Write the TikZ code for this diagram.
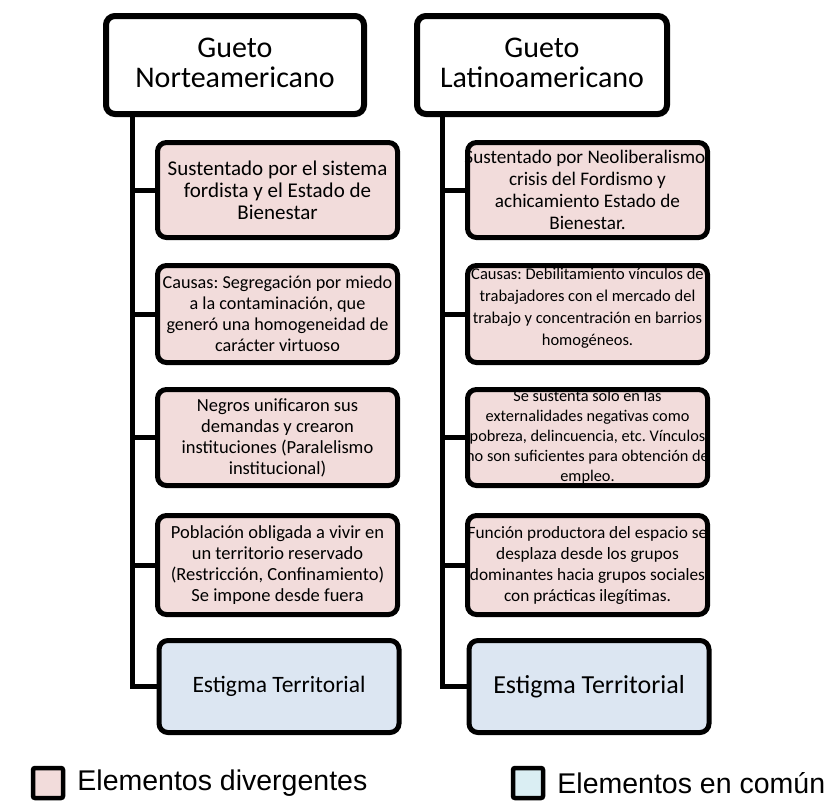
\documentclass[tikz,border=0pt]{standalone}
\usepackage{fontspec}
\setmainfont{Carlito}
\newfontfamily\legendfont{Liberation Sans}
\definecolor{divpink}{HTML}{F2DCDB}
\definecolor{combl}{HTML}{DCE6F2}
\definecolor{legbl}{HTML}{DAEEF3}
\newcommand\fsz[2]{\fontsize{#1}{#2}\selectfont}
\frenchspacing
\begin{document}
\begin{tikzpicture}[x=1pt,y=-1pt,
  hbox/.style={draw, line width=6pt, rounded corners=9pt, fill=white, minimum width=258pt, minimum height=98pt, inner sep=0pt},
  pbox/.style={draw, line width=5pt, rounded corners=9pt, fill=divpink, minimum width=240pt, minimum height=96pt, inner sep=0pt},
  cbox/.style={draw, line width=5pt, rounded corners=9pt, fill=combl, minimum width=240pt, minimum height=92pt, inner sep=0pt},
  txt/.style={align=center, inner sep=0pt},
  conn/.style={line width=5pt, line join=miter},
  legsq/.style={draw, line width=4.5pt, rounded corners=2pt, minimum width=30pt, minimum height=30pt, inner sep=0pt},
  legtxt/.style={anchor=west, inner sep=0pt, font=\legendfont\fsz{28.5}{30}}]
\useasboundingbox (0,0) rectangle (827,804);
\coordinate (ltr) at (132,0);
\coordinate (rtr) at (442,0);
% headers
\node[hbox] (hl) at (235,65) {};
\node[hbox, minimum width=250pt] (hr) at (542,65) {};
% left column
\node[pbox, minimum height=95pt] (l1) at (277.5,190) {};
\node[pbox, minimum height=97pt] (l2) at (277.5,314) {};
\node[pbox, minimum height=96pt] (l3) at (277.5,437.5) {};
\node[pbox, minimum height=99pt] (l4) at (277.5,565) {};
\node[cbox] (l5) at (279,686.5) {};
% right column
\node[pbox, minimum height=95pt] (r1) at (587.5,190) {};
\node[pbox, minimum height=97pt] (r2) at (587.5,314) {};
\node[pbox, minimum height=96pt] (r3) at (587.5,437.5) {};
\node[pbox, minimum height=99pt] (r4) at (587.5,565) {};
\node[cbox] (r5) at (589,686.5) {};
% connectors
\draw[conn] (hl.south -| ltr) |- (l5.west);
\foreach \n in {l1,l2,l3,l4} \draw[conn] (ltr |- \n.west) -- (\n.west);
\draw[conn] (hr.south -| rtr) |- (r5.west);
\foreach \n in {r1,r2,r3,r4} \draw[conn] (rtr |- \n.west) -- (\n.west);
% texts
\node[txt, font=\fsz{30}{30}] (hlt) at ([yshift=2pt]hl.center) {Gueto\\Norteamericano};
\node[txt, font=\fsz{30}{30}] (hrt) at ([yshift=2pt]hr.center) {Gueto\\Latinoamericano};
\node[txt, font=\fsz{21}{22}] (l1t) at (l1) {Sustentado por el sistema\\fordista y el Estado de\\Bienestar};
\node[txt, font=\fsz{18.2}{21}] (l2t) at (l2) {Causas: Segregación por miedo\\a la contaminación, que\\generó una homogeneidad de\\carácter virtuoso};
\node[txt, font=\fsz{18.5}{21}] (l3t) at (l3) {Negros unificaron sus\\demandas y crearon\\instituciones (Paralelismo\\institucional)};
\node[txt, font=\fsz{18.5}{21}] (l4t) at (l4) {Población obligada a vivir en\\un territorio reservado\\(Restricción, Confinamiento)\\Se impone desde fuera};
\node[txt, font=\fsz{23.5}{26}] (l5t) at (l5) {Estigma Territorial};
\node[txt, font=\fsz{19.2}{22}] (r1t) at (r1) {Sustentado por Neoliberalismo;\\crisis del Fordismo y\\achicamiento Estado de\\Bienestar.};
\node[txt, font=\fsz{16.5}{22}] (r2t) at ([yshift=6pt]r2.center) {Causas: Debilitamiento vínculos de\\trabajadores con el mercado del\\trabajo y concentración en barrios\\homogéneos.};
\node[txt, font=\fsz{16.3}{20}] (r3t) at (r3) {Se sustenta sólo en las\\externalidades negativas como\\pobreza, delincuencia, etc. Vínculos\\no son suficientes para obtención de\\empleo.};
\node[txt, font=\fsz{17.3}{21}] (r4t) at (r4) {Función productora del espacio se\\desplaza desde los grupos\\dominantes hacia grupos sociales\\con prácticas ilegítimas.};
\node[txt, font=\fsz{26}{28}] (r5t) at (r5) {Estigma Territorial};
% legend
\node[legsq, fill=divpink] (lg1) at (48,783) {};
\node[legtxt] (lg1t) at ([xshift=12pt]lg1.east) {Elementos divergentes};
\node[legsq, fill=legbl] (lg2) at (528,783) {};
\node[legtxt] (lg2t) at ([xshift=12pt]lg2.east) {Elementos en común};
\end{tikzpicture}
\end{document}
